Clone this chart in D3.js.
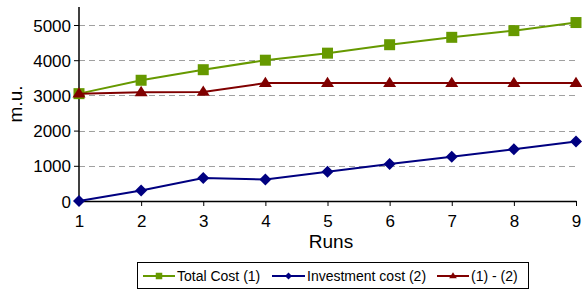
<!DOCTYPE html>
<html><head><meta charset="utf-8">
<script src="https://cdn.jsdelivr.net/npm/d3@7"></script>
<style>body{margin:0;background:#fff} svg text{font-family:"Liberation Sans",Arial,sans-serif}</style>
</head><body><svg id="c" width="582" height="291"></svg>
<script>
const runs = [1,2,3,4,5,6,7,8,9];
const totalCost = [3050,3430,3730,4000,4200,4440,4650,4840,5070];
const investmentCost = [0,300,650,610,830,1050,1260,1470,1690];
const difference = [3050,3090,3100,3350,3350,3350,3350,3350,3350];
const yTicks = [0,1000,2000,3000,4000,5000];
const seriesNames = ["Total Cost (1)","Investment cost (2)","(1) - (2)"];

const svg = d3.select("#c");
const x = d3.scaleLinear().domain([1,9]).range([79,576]);
const y = d3.scaleLinear().domain([0,5500]).range([201,7.4]);

svg.append("g").selectAll("line").data(yTicks.slice(1)).join("line")
  .attr("x1",79).attr("x2",576).attr("y1",d=>Math.round(y(d))+0.5).attr("y2",d=>Math.round(y(d))+0.5)
  .attr("stroke","#a0a0a0").attr("stroke-dasharray","6,4").attr("stroke-width",1);

const xAxis = svg.append("g").attr("transform","translate(0,201)")
  .call(d3.axisBottom(x).tickValues(runs).tickFormat(d3.format("d")).tickSize(5).tickSizeOuter(0));
const yAxis = svg.append("g").attr("transform","translate(79,0)")
  .call(d3.axisLeft(y).tickValues(yTicks).tickFormat(d3.format("d")).tickSize(5).tickSizeOuter(0));
[xAxis,yAxis].forEach(g=>{
  g.attr("font-family",null);
  g.select(".domain").attr("stroke","#000").attr("stroke-width",1.5);
  g.selectAll(".tick line").attr("stroke","#000");
  g.selectAll("text").attr("font-size",17).attr("fill","#000");
});
yAxis.select(".domain").attr("d","M0,7V201");
xAxis.selectAll("text").attr("y",26).attr("dy",null);
yAxis.selectAll("text").attr("x",-8).attr("dy","0.36em");

svg.append("text").attr("x",331).attr("y",248).attr("text-anchor","middle")
  .attr("font-size",19).text("Runs");
svg.append("text").attr("transform","translate(22,104) rotate(-90)").attr("text-anchor","middle")
  .attr("font-size",19).text("m.u.");

const diamond = {draw(ctx,size){const r=Math.sqrt(size/2);ctx.moveTo(0,-r);ctx.lineTo(r,0);ctx.lineTo(0,r);ctx.lineTo(-r,0);ctx.closePath();}};
const triangle = {draw(ctx,size){const w=Math.sqrt(size)*0.65;const h=w*1.6;ctx.moveTo(0,-h*0.62);ctx.lineTo(w,h*0.38);ctx.lineTo(-w,h*0.38);ctx.closePath();}};
const series = [
  {name:seriesNames[0], vals:totalCost, color:"#669900", sym:d3.symbolSquare, size:121},
  {name:seriesNames[1], vals:investmentCost, color:"#000080", sym:diamond, size:72},
  {name:seriesNames[2], vals:difference, color:"#800000", sym:triangle, size:100}
];
const line = d3.line().x((d,i)=>x(runs[i])).y(d=>y(d));
[series[1],series[0],series[2]].forEach(s=>{
  svg.append("path").attr("d",line(s.vals)).attr("fill","none").attr("stroke",s.color).attr("stroke-width",2);
  svg.append("g").selectAll("path").data(s.vals).join("path")
    .attr("transform",(d,i)=>`translate(${x(runs[i])},${y(d)})`)
    .attr("d",d3.symbol().type(s.sym).size(s.size)).attr("fill",s.color);
});

const lg = svg.append("g");
lg.append("rect").attr("x",137.5).attr("y",262.5).attr("width",391).attr("height",26)
  .attr("fill","#fff").attr("stroke","#000").attr("stroke-width",1);
const lx = [143,272,437];
const lw = [32,33,32];
series.forEach((s,i)=>{
  const g = lg.append("g").attr("transform",`translate(${lx[i]},276)`);
  g.append("line").attr("x1",0).attr("x2",lw[i]).attr("stroke",s.color).attr("stroke-width",2);
  g.append("path").attr("transform",`translate(${lw[i]/2},0)`).attr("d",d3.symbol().type(s.sym).size(s.size*0.35)).attr("fill",s.color);
  g.append("text").attr("x",lw[i]+2).attr("y",5).attr("font-size",14).text(s.name);
});
</script></body></html>
